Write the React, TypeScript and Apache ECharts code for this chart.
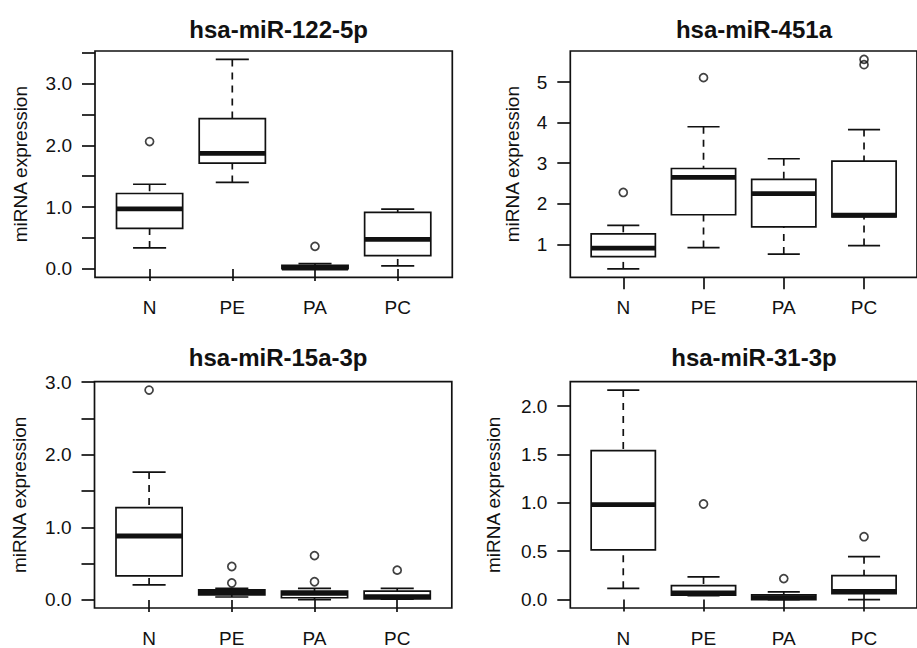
import React, { useEffect, useRef } from 'react';
import * as echarts from 'echarts';

// ---- data ----
const categories = ['N', 'PE', 'PA', 'PC'];
const categoryPositions = [1, 2, 3, 4];

// box stats per category: [lower whisker, Q1, median, Q3, upper whisker]
const title122 = 'hsa-miR-122-5p';
const boxes122 = [
  [0.34, 0.656, 0.97, 1.22, 1.37],
  [1.4, 1.71, 1.87, 2.43, 3.39],
  [0.0, 0.005, 0.015, 0.058, 0.085],
  [0.048, 0.215, 0.478, 0.914, 0.968],
];
const outliers122 = [[1, 2.06], [3, 0.365]];
const yTicks122 = [0, 0.5, 1, 1.5, 2, 2.5, 3, 3.5];
const yLabels122 = [0, 1, 2, 3];

const title451 = 'hsa-miR-451a';
const boxes451 = [
  [0.395, 0.7, 0.91, 1.26, 1.47],
  [0.92, 1.73, 2.65, 2.87, 3.9],
  [0.76, 1.43, 2.25, 2.6, 3.11],
  [0.97, 1.68, 1.72, 3.05, 3.83],
];
const outliers451 = [[1, 2.28], [2, 5.11], [4, 5.43], [4, 5.56]];
const yTicks451 = [1, 2, 3, 4, 5];
const yLabels451 = [1, 2, 3, 4, 5];

const title15 = 'hsa-miR-15a-3p';
const boxes15 = [
  [0.206, 0.33, 0.88, 1.27, 1.76],
  [0.04, 0.069, 0.11, 0.14, 0.16],
  [0.004, 0.03, 0.09, 0.12, 0.16],
  [0.01, 0.014, 0.045, 0.12, 0.16],
];
const outliers15 = [[1, 2.89], [2, 0.233], [2, 0.46], [3, 0.25], [3, 0.61], [4, 0.41]];
const yTicks15 = [0, 0.5, 1, 1.5, 2, 2.5, 3];
const yLabels15 = [0, 1, 2, 3];

const title31 = 'hsa-miR-31-3p';
const boxes31 = [
  [0.117, 0.513, 0.981, 1.539, 2.165],
  [0.041, 0.045, 0.069, 0.145, 0.234],
  [0.0, 0.0, 0.02, 0.048, 0.079],
  [0.0, 0.062, 0.086, 0.248, 0.444],
];
const outliers31 = [[2, 0.988], [3, 0.217], [4, 0.65]];
const yTicks31 = [0, 0.5, 1, 1.5, 2];
const yLabels31 = [0, 0.5, 1, 1.5, 2];

const yAxisTitle = 'miRNA expression';

// ---- layout / style ----
const FONT = "'Liberation Sans', Arial, Helvetica, sans-serif";
const INK = '#111';
const FRAME_W = 357.3;

const panels = [
  { title: title122, boxes: boxes122, outliers: outliers122, ticks: yTicks122, labels: yLabels122, digits: 1,
    left: 95, top: 51, height: 226.3, nameGap: 65, titleTop: 12 },
  { title: title451, boxes: boxes451, outliers: outliers451, ticks: yTicks451, labels: yLabels451, digits: 0,
    left: 570.3, top: 51, height: 226.3, nameGap: 48.5, titleTop: 12 },
  { title: title15, boxes: boxes15, outliers: outliers15, ticks: yTicks15, labels: yLabels15, digits: 1,
    left: 94.5, top: 381.7, height: 227.6, nameGap: 65.5, titleTop: 340 },
  { title: title31, boxes: boxes31, outliers: outliers31, ticks: yTicks31, labels: yLabels31, digits: 1,
    left: 570.3, top: 381.7, height: 227.6, nameGap: 67, titleTop: 340 },
];

function rangeR(values: number[]) {
  const lo = Math.min(...values);
  const hi = Math.max(...values);
  const ext = 0.04 * (hi - lo);
  return [lo - ext, hi + ext];
}

function renderBox(params: any, api: any) {
  const x = api.value(0);
  const lo = api.value(1);
  const q1 = api.value(2);
  const med = api.value(3);
  const q3 = api.value(4);
  const hi = api.value(5);
  const [xl] = api.coord([x - 0.4, med]);
  const [xr] = api.coord([x + 0.4, med]);
  const [sl] = api.coord([x - 0.2, med]);
  const [sr] = api.coord([x + 0.2, med]);
  const [cx, yMed] = api.coord([x, med]);
  const yLo = api.coord([x, lo])[1];
  const yQ1 = api.coord([x, q1])[1];
  const yQ3 = api.coord([x, q3])[1];
  const yHi = api.coord([x, hi])[1];
  const thin = { stroke: INK, lineWidth: 1.7, fill: null };
  const dashed = { stroke: INK, lineWidth: 1.7, lineDash: [7, 6] };
  return {
    type: 'group',
    children: [
      { type: 'line', shape: { x1: cx, y1: yHi, x2: cx, y2: yQ3 }, style: dashed },
      { type: 'line', shape: { x1: cx, y1: yLo, x2: cx, y2: yQ1 }, style: dashed },
      { type: 'line', shape: { x1: sl, y1: yHi, x2: sr, y2: yHi }, style: thin },
      { type: 'line', shape: { x1: sl, y1: yLo, x2: sr, y2: yLo }, style: thin },
      { type: 'rect', shape: { x: xl, y: yQ3, width: xr - xl, height: yQ1 - yQ3 }, style: { stroke: INK, lineWidth: 1.7, fill: '#fff' } },
      { type: 'line', shape: { x1: xl, y1: yMed, x2: xr, y2: yMed }, style: { stroke: INK, lineWidth: 4.8 } },
    ],
  };
}

function buildOption() {
  const grid: any[] = [];
  const xAxis: any[] = [];
  const yAxis: any[] = [];
  const series: any[] = [];
  const title: any[] = [];

  panels.forEach((p, i) => {
    const all = p.boxes.flat().concat(p.outliers.map((o) => o[1]));
    const [ymin, ymax] = rangeR(all);
    grid.push({
      left: p.left, top: p.top, width: FRAME_W, height: p.height,
      show: true, borderColor: INK, borderWidth: 1.7, backgroundColor: 'transparent',
    });
    title.push({
      text: p.title, left: p.left + FRAME_W / 2, top: p.titleTop, textAlign: 'center',
      textStyle: { fontFamily: FONT, fontSize: 24, fontWeight: 'bold', color: INK },
    });
    xAxis.push({
      type: 'value', gridIndex: i, min: 0.34, max: 4.66,
      axisLine: { show: false },
      splitLine: { show: false },
      axisTick: { show: true, length: 12, customValues: categoryPositions, lineStyle: { color: INK, width: 1.7 } },
      axisLabel: {
        show: true, customValues: categoryPositions, margin: 21,
        fontFamily: FONT, fontSize: 19, color: INK,
        formatter: (v: number) => categories[Math.round(v) - 1] ?? '',
      },
    });
    yAxis.push({
      type: 'value', gridIndex: i, min: ymin, max: ymax,
      name: yAxisTitle, nameLocation: 'middle', nameGap: p.nameGap,
      nameTextStyle: { fontFamily: FONT, fontSize: 19, color: INK },
      axisLine: { show: false },
      splitLine: { show: false },
      axisTick: { show: true, length: 13, customValues: p.ticks, lineStyle: { color: INK, width: 1.7 } },
      axisLabel: {
        show: true, customValues: p.labels, margin: 23,
        fontFamily: FONT, fontSize: 19, color: INK,
        formatter: (v: number) => v.toFixed(p.digits),
      },
    });
    series.push({
      type: 'custom', xAxisIndex: i, yAxisIndex: i,
      renderItem: renderBox,
      encode: { x: 0, y: [1, 2, 3, 4, 5] },
      data: p.boxes.map((b, k) => [categoryPositions[k], ...b]),
      clip: false,
    });
    series.push({
      type: 'scatter', xAxisIndex: i, yAxisIndex: i,
      symbol: 'circle', symbolSize: 8,
      itemStyle: { color: 'rgba(255,255,255,0)', borderColor: INK, borderWidth: 1.7 },
      data: p.outliers,
    });
  });

  return {
    animation: false,
    backgroundColor: '#fff',
    title, grid, xAxis, yAxis, series,
  };
}

export default function App() {
  const ref = useRef<HTMLDivElement>(null);
  useEffect(() => {
    if (!ref.current) return;
    const chart = echarts.init(ref.current, undefined, { renderer: 'svg' });
    chart.setOption(buildOption() as any);
    return () => chart.dispose();
  }, []);
  return (
    <div
      ref={ref}
      style={{ position: 'absolute', left: 0, top: 0, width: 917, height: 648, background: '#fff' }}
    />
  );
}
